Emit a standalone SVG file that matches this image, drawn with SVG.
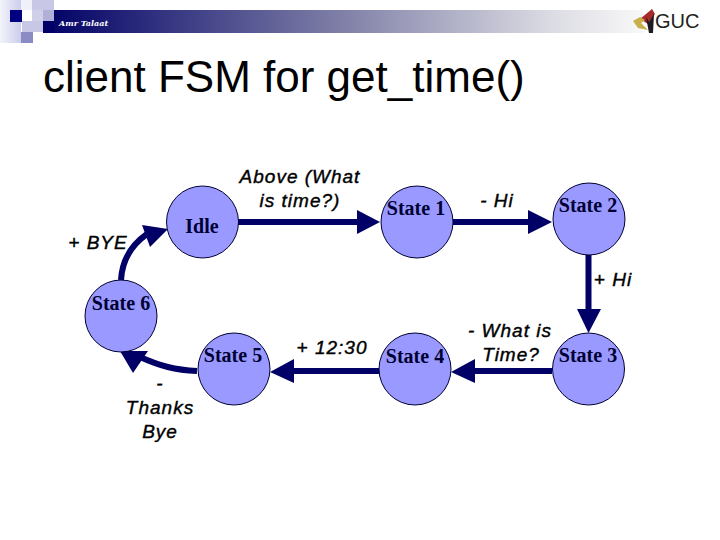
<svg xmlns="http://www.w3.org/2000/svg" width="720" height="540" viewBox="0 0 720 540">
<style>
.n{fill:#9999ff;stroke:#000033;stroke-width:1}
.s{font-family:"Liberation Serif",serif;font-weight:bold;font-size:20px;fill:#000033;text-anchor:middle}
.l{font-family:"Liberation Sans",sans-serif;font-style:italic;font-size:19px;letter-spacing:1px;fill:#000;text-anchor:middle;stroke:#000;stroke-width:.4}
.c{fill:none;stroke:#000066;stroke-width:6}
.h{fill:#000066}
</style>
<defs>
<linearGradient id="bar" x1="0" x2="1" y1="0" y2="0"><stop offset="0" stop-color="#000066"/><stop offset=".5" stop-color="#8080a8"/><stop offset=".85" stop-color="#dcdce4"/><stop offset="1" stop-color="#f8f8f8"/></linearGradient>
<linearGradient id="fade" x1="0" x2="1" y1="0" y2="0"><stop offset="0" stop-color="#ccccee"/><stop offset="1" stop-color="#f4f4fb"/></linearGradient>
</defs>
<rect width="720" height="540" fill="#fff"/>
<g id="header">
<rect x="0" y="0" width="21" height="43" fill="url(#fade)" transform="matrix(-1 0 0 1 21 0)"/>
<rect x="21" y="0" width="11" height="10" fill="#f0f0fa"/>
<rect x="32" y="0" width="22" height="10" fill="#c8c8e6"/>
<rect x="43" y="10" width="600" height="23" fill="url(#bar)"/>
<rect x="43" y="10" width="11" height="11" fill="#b0b0d8"/>
<rect x="32" y="10" width="11" height="11" fill="#d0d0ea"/>
<rect x="10" y="10" width="12" height="12" fill="#000080"/>
<rect x="22" y="21" width="21" height="11" fill="#c8c8e6"/>
<rect x="21" y="32" width="12" height="11" fill="#8c8cc4"/>
<rect x="43" y="21" width="11" height="12" fill="#000066"/>
<text x="59" y="26" font-family="'DejaVu Serif',serif" font-style="italic" font-weight="bold" font-size="8" fill="#fff">Amr Talaat</text>
</g>
<g id="logo">
<polygon points="648,24 640,19 652,9 655,14" fill="#a82a2a"/>
<polygon points="633,21 640,17 645,20 641,23 648,30 638,28" fill="#c9ae4a"/>
<polygon points="649,33 646,17 649,22 654,14 653,33" fill="#1c1c22"/>
<text x="655" y="27.500" font-family="'Liberation Sans',sans-serif" font-size="20" fill="#222">GUC</text>
</g>
<text id="title" x="43" y="92" font-family="'Liberation Sans',sans-serif" font-size="44" fill="#000">client FSM for get_time()</text>
<g id="connectors">
<path class="c" d="M238 222H360"/><polygon class="h" points="357,210 380,222 357,234"/>
<path class="c" d="M453 222H530"/><polygon class="h" points="528,210 552,222 528,234"/>
<path class="c" d="M588.500 255V310"/><polygon class="h" points="577,309 601,309 588.500,333"/>
<path class="c" d="M552 371H470"/><polygon class="h" points="475,359 475,383 451,372"/>
<path class="c" d="M380 371H290"/><polygon class="h" points="294,359 294,383 270,372"/>
<path class="c" d="M197 371C175 370 160 366 140 357"/><polygon class="h" points="120,351 148,351 133,373"/>
<path class="c" d="M121 280C122 262 130 246 147 234"/><polygon class="h" points="142,225 168,229 150,247"/>
</g>
<g id="idle"><circle class="n" cx="202.500" cy="222" r="36"/><text class="s" x="202" y="233">Idle</text></g>
<g id="state1"><circle class="n" cx="417" cy="222" r="36"/><text class="s" x="416" y="215">State 1</text></g>
<g id="state2"><circle class="n" cx="589" cy="219" r="36"/><text class="s" x="588" y="212">State 2</text></g>
<g id="state3"><circle class="n" cx="588.500" cy="369" r="36"/><text class="s" x="588" y="362">State 3</text></g>
<g id="state4"><circle class="n" cx="415" cy="369" r="36"/><text class="s" x="415" y="363">State 4</text></g>
<g id="state5"><circle class="n" cx="234" cy="369" r="36"/><text class="s" x="233" y="362">State 5</text></g>
<g id="state6"><circle class="n" cx="121" cy="316" r="36"/><text class="s" x="121" y="310">State 6</text></g>
<g id="labels">
<text class="l" x="98" y="249">+ BYE</text>
<text class="l" x="300" y="183">Above (What</text>
<text class="l" x="300" y="207">is time?)</text>
<text class="l" x="497" y="207">- Hi</text>
<text class="l" x="613" y="286">+ Hi</text>
<text class="l" x="332" y="354">+ 12:30</text>
<text class="l" x="510" y="337">- What is</text>
<text class="l" x="511" y="361">Time?</text>
<text class="l" x="160" y="390">-</text>
<text class="l" x="160" y="414">Thanks</text>
<text class="l" x="160" y="438">Bye</text>
</g>
</svg>
